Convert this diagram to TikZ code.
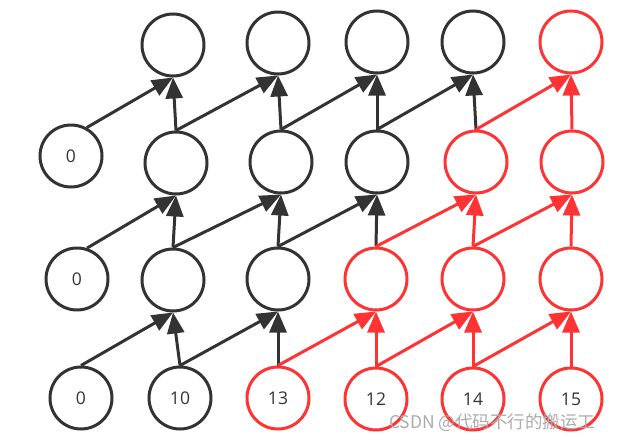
\documentclass[tikz,border=0pt]{standalone}
\usepackage{fontspec}
\setmainfont{Open Sans}
\newfontfamily\cjkfont{Noto Sans CJK SC}
\usetikzlibrary{arrows.meta}
\definecolor{dk}{HTML}{333333}
\definecolor{rd}{HTML}{FF3333}
\definecolor{wm}{HTML}{ABABAB}
\begin{document}
\begin{tikzpicture}[x=1pt,y=-1pt,
  nd/.style={circle,draw=dk,line width=3pt,minimum size=62pt,inner sep=0pt,text=dk,font=\fontsize{17.5}{17.5}\selectfont},
  rnd/.style={nd,draw=rd},
  ar/.style={dk,line width=3pt,-{Triangle[length=21pt,width=17pt]}},
  rar/.style={ar,rd}]
\useasboundingbox (0,0) rectangle (635,442);
% top row
\node[nd]  (t1) at (173,45) {};
\node[nd]  (t2) at (278,43) {};
\node[nd]  (t3) at (377,42) {};
\node[nd]  (t4) at (473,42) {};
\node[rnd] (t5) at (571,42) {};
% row 3
\node[nd]  (z3) at (71,156) {0};
\node[nd]  (a3) at (176,163) {};
\node[nd]  (b3) at (281,162) {};
\node[nd]  (c3) at (377,162) {};
\node[rnd] (d3) at (476,162) {};
\node[rnd] (e3) at (572,162) {};
% row 2
\node[nd]  (z2) at (77,279) {0};
\node[nd]  (a2) at (173,280) {};
\node[nd]  (b2) at (278,279) {};
\node[rnd] (c2) at (376,279) {};
\node[rnd] (d2) at (473,279) {};
\node[rnd] (e2) at (571,279) {};
% bottom row
\node[nd]  (z1) at (81,398) {0};
\node[nd]  (a1) at (180,398) {10};
\node[rnd] (b1) at (278,398) {13};
\node[rnd] (c1) at (376,399) {12};
\node[rnd] (d1) at (473,399) {14};
\node[rnd] (e1) at (571,399) {15};
% bottom -> row 2
\draw[ar]  (z1.north) -- (a2.south);
\draw[ar]  (a1.north) -- (a2.south);
\draw[ar]  (a1.north) -- (b2.south);
\draw[ar]  (b1.north) -- (b2.south);
\draw[rar] (b1.north) -- (c2.south);
\draw[rar] (c1.north) -- (c2.south);
\draw[rar] (c1.north) -- (d2.south);
\draw[rar] (d1.north) -- (d2.south);
\draw[rar] (d1.north) -- (e2.south);
\draw[rar] (e1.north) -- (e2.south);
% row 2 -> row 3
\draw[ar]  (z2.72) -- (a3.south);
\draw[ar]  (a2.north) -- (a3.south);
\draw[ar]  (a2.north) -- (b3.south);
\draw[ar]  (b2.north) -- (b3.south);
\draw[ar]  (b2.north) -- (c3.south);
\draw[ar]  (c2.north) -- (c3.south);
\draw[rar] (c2.north) -- (d3.south);
\draw[rar] (d2.north) -- (d3.south);
\draw[rar] (d2.north) -- (e3.south);
\draw[rar] (e2.north) -- (e3.south);
% row 3 -> top
\draw[ar]  (z3.61) -- (t1.south);
\draw[ar]  (a3.north) -- (t1.south);
\draw[ar]  (a3.north) -- (t2.south);
\draw[ar]  (b3.north) -- (t2.south);
\draw[ar]  (b3.north) -- (t3.south);
\draw[ar]  (c3.north) -- (t3.south);
\draw[ar]  (c3.north) -- (t4.south);
\draw[ar]  (d3.north) -- (t4.south);
\draw[rar] (d3.north) -- (t5.south);
\draw[rar] (e3.north) -- (t5.south);
% watermark
\node[anchor=west,inner sep=0pt,text=wm,font=\cjkfont\fontsize{17.5}{17.5}\selectfont] (wmk) at (389,423) {CSDN @代码不行的搬运工};
\end{tikzpicture}
\end{document}
